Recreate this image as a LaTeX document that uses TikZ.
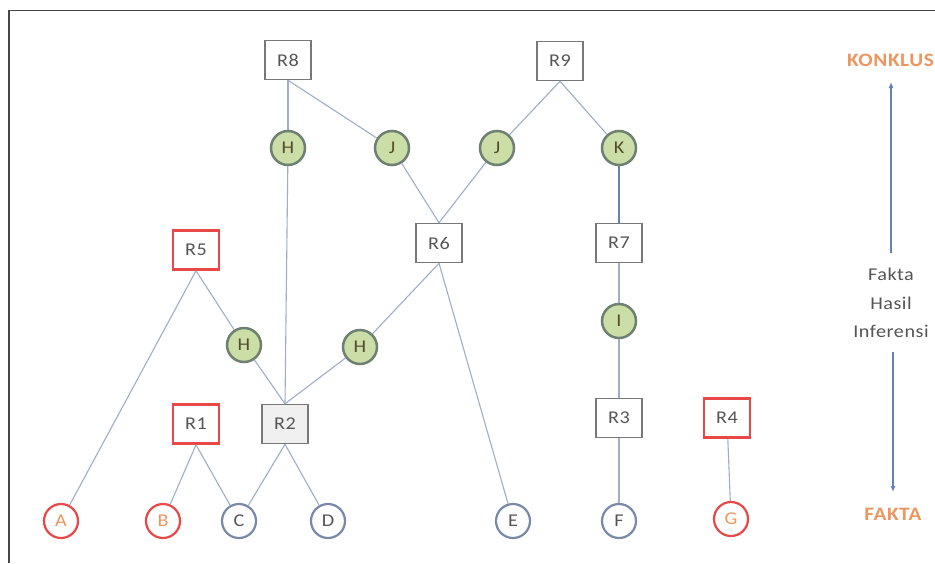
\documentclass[tikz,border=0pt]{standalone}
\usepackage{fontspec}
\setmainfont{Carlito}[FakeStretch=1.12, LetterSpace=3]
\usetikzlibrary{arrows.meta}
\definecolor{edgec}{RGB}{158,174,200}
\definecolor{boxc}{RGB}{120,120,120}
\definecolor{redc}{RGB}{232,72,72}
\definecolor{greenf}{RGB}{204,222,168}
\definecolor{greend}{RGB}{110,128,112}
\definecolor{bluec}{RGB}{120,138,168}
\definecolor{txtc}{RGB}{85,85,85}
\definecolor{orangec}{RGB}{236,150,96}
\definecolor{framec}{RGB}{70,70,70}
\definecolor{arrc}{RGB}{100,130,185}
\tikzset{
  every node/.style={font=\fontsize{18}{21}\selectfont, text=txtc},
  rbox/.style={draw=boxc, line width=1.5pt, fill=white, minimum width=46pt, minimum height=39pt, inner sep=0pt},
  rboxg/.style={rbox, fill=black!6},
  rboxr/.style={rbox, draw=redc, line width=2.5pt},
  gcirc/.style={circle, draw=greend, fill=greenf, line width=2.5pt, minimum size=34pt, inner sep=0pt, text=black!55!olive},
  bcirc/.style={circle, draw=bluec, fill=white, line width=2.2pt, minimum size=34pt, inner sep=0pt},
  rcirc/.style={circle, draw=redc, fill=white, line width=2.2pt, minimum size=34pt, inner sep=0pt, text=orangec},
  edge/.style={draw=edgec, line width=1.1pt},
  side/.style={text=orangec, font=\fontsize{19}{22}\selectfont\bfseries},
  sidearr/.style={draw=arrc, line width=1.3pt, -{Latex[length=6pt,width=5pt]}}
}
\begin{document}
\begin{tikzpicture}[x=1pt,y=-1pt]
\useasboundingbox (0,0) rectangle (935,563);
\fill[white] (0,0) rectangle (935,563);
\draw[framec, line width=1.5pt] (9,563) -- (9,10.5) -- (935,10.5);
% nodes
\node[rbox] (r8) at (288,60) {R8};
\node[rbox] (r9) at (560,61) {R9};
\node[gcirc] (h1) at (288,148) {H};
\node[gcirc] (j1) at (392,148) {J};
\node[gcirc] (j2) at (497,148) {J};
\node[gcirc] (k) at (619,148) {K};
\node[rbox] (r6) at (439,243) {R6};
\node[rbox] (r7) at (619,243) {R7};
\node[rboxr] (r5) at (196,250) {R5};
\node[gcirc] (h2) at (244,345) {H};
\node[gcirc] (h3) at (360,347) {H};
\node[gcirc] (i) at (619,321) {I};
\node[rboxr] (r1) at (196,424) {R1};
\node[rboxg] (r2) at (285,424) {R2};
\node[rbox] (r3) at (619,418) {R3};
\node[rboxr] (r4) at (727,418) {R4};
\node[rcirc] (a) at (61,521) {A};
\node[rcirc] (b) at (163,521) {B};
\node[bcirc] (c) at (239,521) {C};
\node[bcirc] (d) at (328,521) {D};
\node[bcirc] (e) at (513,521) {E};
\node[bcirc] (f) at (619,521) {F};
\node[rcirc] (g) at (731,519) {G};
% edges
\draw[edge] (r8.south) -- (h1);
\draw[edge] (r8.south) -- (j1);
\draw[edge] (h1) -- (r2.north);
\draw[edge] (j1) -- (r6.north);
\draw[edge] (r9.south) -- (j2);
\draw[edge] (r9.south) -- (k);
\draw[edge] (j2) -- (r6.north);
\draw[draw=arrc, line width=2pt] (k) -- (r7);
\draw[edge] (r6.south) -- (h3);
\draw[edge] (r6.south) -- (e);
\draw[edge] (r5.south) -- (a);
\draw[edge] (r5.south) -- (h2);
\draw[edge] (h2) -- (r2.north);
\draw[edge] (h3) -- (r2.north);
\draw[edge] (r7.south) -- (i);
\draw[edge] (i) -- (r3.north);
\draw[edge] (r3) -- (f);
\draw[edge] (r1.south) -- (b);
\draw[edge] (r1.south) -- (c);
\draw[edge] (r2.south) -- (c);
\draw[edge] (r2.south) -- (d);
\draw[edge] (r4) -- (g);
% side labels
\node[side, anchor=east, inner sep=0pt] (konk) at (934,60) {KONKLUS};
\node[align=center, text=txtc, font=\fontsize{18}{28.5}\selectfont] (mid) at (891,303) {Fakta\\Hasil\\Inferensi};
\node[side] (fakta) at (893,514) {FAKTA};
\coordinate (up1) at (891,253);
\coordinate (up2) at (891,82);
\coordinate (dn1) at (893,352);
\coordinate (dn2) at (893,492);
\draw[sidearr] (up1) -- (up2);
\draw[sidearr] (dn1) -- (dn2);
\end{tikzpicture}
\end{document}
